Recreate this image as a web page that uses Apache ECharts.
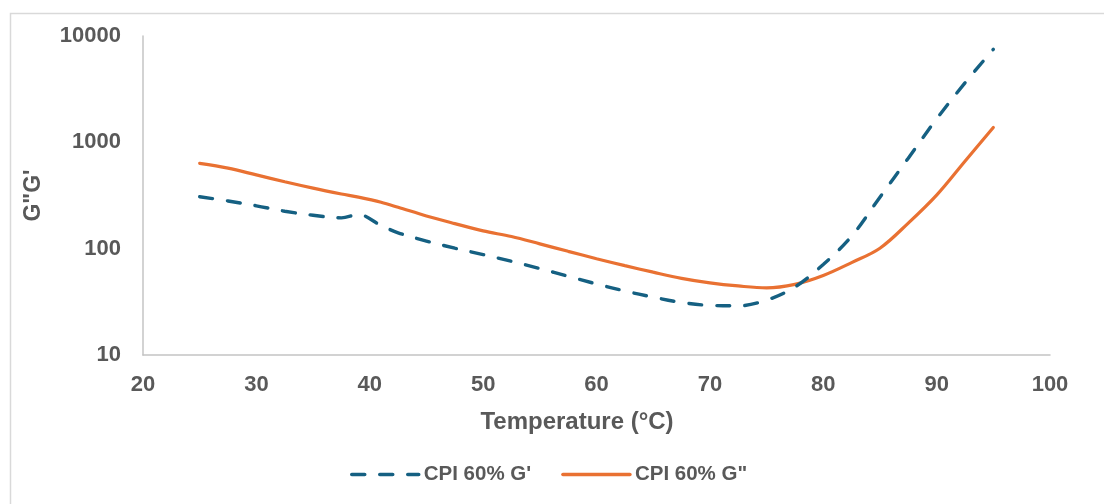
<!DOCTYPE html>
<html>
<head>
<meta charset="utf-8">
<style>
  html, body { margin: 0; padding: 0; background: #ffffff; }
  #chart { width: 1104px; height: 504px; }
</style>
<script src="https://cdn.jsdelivr.net/npm/echarts@6/dist/echarts.min.js"></script>
</head>
<body>
<div id="chart"></div>
<script>
// Temperature sweep (°C)
const tempC = [25, 27.5, 30, 32.5, 35, 37.5, 39, 41, 42.5, 45, 47.5, 50, 52.5, 55, 57.5,
               60, 62.5, 65, 67.5, 70, 72.5, 75, 77.5, 80, 82.5, 85, 87.5, 90, 92.5, 95];

// Storage modulus G'
const storageG = [308, 281, 253, 225, 206, 195, 209, 165, 141, 118, 101, 88, 76, 65, 55,
                  46.6, 40, 35, 31.2, 29.3, 29, 32.8, 43.6, 71, 131, 305, 710, 1660, 3620, 7500];

// Loss modulus G"
const lossG = [635, 572, 494, 426, 371, 327, 305, 273, 245, 203, 172, 147, 130, 111, 94.4,
               80.5, 69.3, 60.1, 52.6, 47.7, 44.6, 42.8, 46.2, 56, 74, 101, 174, 319, 665, 1380];

const seriesNames = ["CPI 60% G'", 'CPI 60% G"'];
const xTicks = { min: 20, max: 100, step: 10 };
const yTicks = { min: 10, max: 10000 };

const textColor = '#595959';
const font = '"Liberation Sans", Arial, sans-serif';

const chart = echarts.init(document.getElementById('chart'), null, { renderer: 'canvas' });

chart.setOption({
  backgroundColor: '#ffffff',
  animation: false,
  graphic: [{
    type: 'rect',
    left: 8, top: 11,
    shape: { width: 1200, height: 600 },
    style: { fill: 'none', stroke: '#d9d9d9', lineWidth: 1.5 },
    silent: true, z: -1
  }],
  grid: { left: 143, right: 54, top: 36, bottom: 149, containLabel: false },
  xAxis: {
    type: 'value',
    min: xTicks.min, max: xTicks.max, interval: xTicks.step,
    name: 'Temperature (°C)',
    nameLocation: 'middle',
    nameGap: 55,
    nameTextStyle: { color: textColor, fontFamily: font, fontWeight: 'bold', fontSize: 24, padding: [0, 39, 0, 0] },
    axisLine: { show: true, lineStyle: { color: '#c4c4c4', width: 1.5 } },
    axisTick: { show: false },
    splitLine: { show: false },
    axisLabel: { color: textColor, fontFamily: font, fontWeight: 'bold', fontSize: 22, margin: 19 }
  },
  yAxis: {
    type: 'log',
    logBase: 10,
    min: yTicks.min, max: yTicks.max,
    name: 'G"G\'',
    nameLocation: 'middle',
    nameGap: 98,
    nameRotate: 90,
    nameTextStyle: { color: textColor, fontFamily: font, fontWeight: 'bold', fontSize: 23 },
    axisLine: { show: true, lineStyle: { color: '#c4c4c4', width: 1.5 } },
    axisTick: { show: false },
    splitLine: { show: false },
    axisLabel: {
      color: textColor, fontFamily: font, fontWeight: 'bold', fontSize: 22, margin: 22,
      formatter: (v) => String(Math.round(v))
    }
  },
  legend: {
    left: 345,
    top: 459,
    itemWidth: 67,
    itemHeight: 14,
    itemGap: 30,
    itemStyle: { opacity: 0 },
    lineStyle: { width: 3.5 },
    textStyle: { color: textColor, fontFamily: font, fontWeight: 'bold', fontSize: 20.5 },
    data: seriesNames
  },
  series: [
    {
      name: seriesNames[0],
      type: 'line',
      data: tempC.map((t, i) => [t, storageG[i]]),
      smooth: 0.35,
      symbol: 'none',
      lineStyle: { color: '#156082', width: 3.4, type: [13, 15], cap: 'round' },
      itemStyle: { color: '#156082' },
      z: 3
    },
    {
      name: seriesNames[1],
      type: 'line',
      data: tempC.map((t, i) => [t, lossG[i]]),
      smooth: 0.35,
      symbol: 'none',
      lineStyle: { color: '#E97132', width: 3.2, cap: 'round' },
      itemStyle: { color: '#E97132' },
      z: 2
    }
  ]
});
</script>
</body>
</html>
